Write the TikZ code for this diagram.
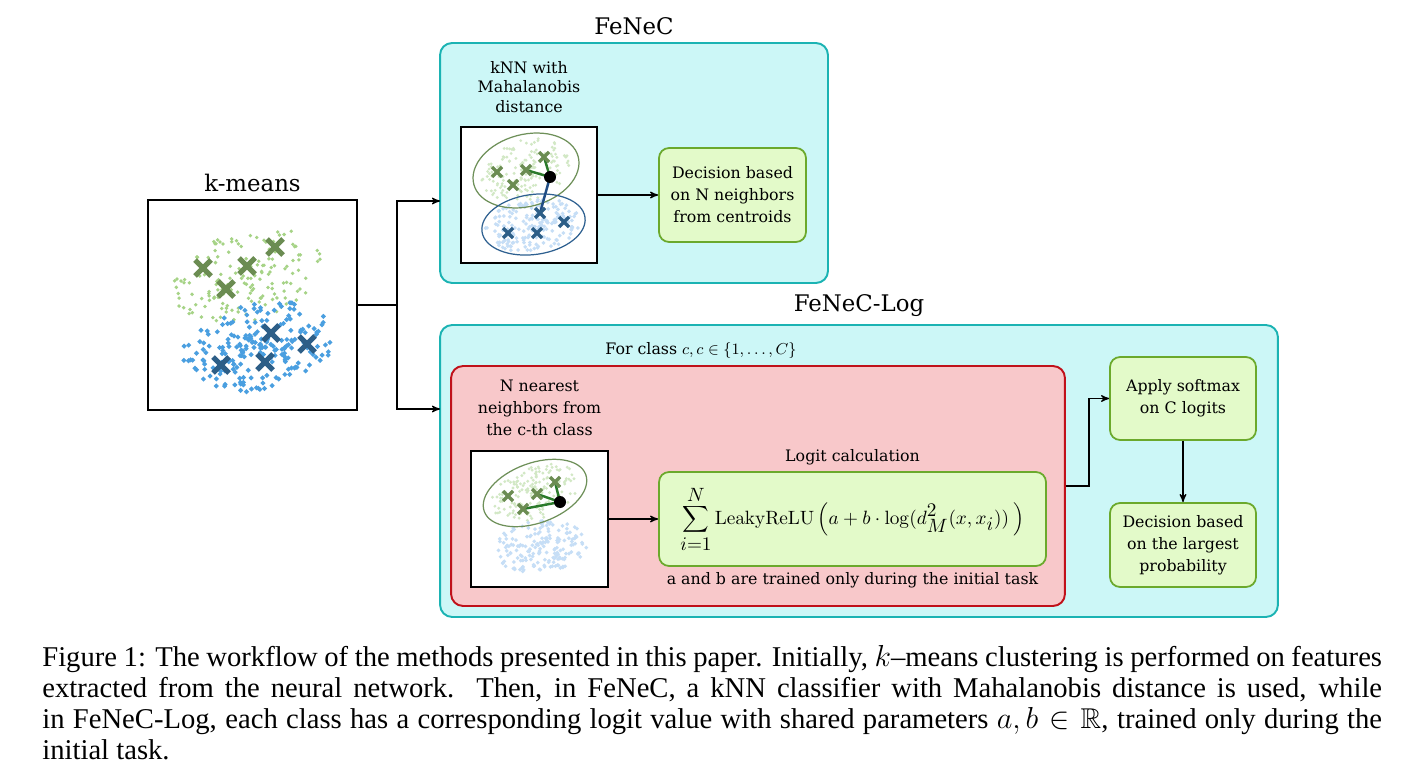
\documentclass[tikz,border=0pt]{standalone}
\usepackage[no-math]{fontspec}
\usepackage{amssymb}
\setmainfont{Liberation Serif}
\newfontfamily\diagfont{DejaVu Serif}
\usetikzlibrary{arrows}
\usetikzlibrary{positioning}

\definecolor{panelfill}{HTML}{CCF7F7}
\definecolor{paneledge}{HTML}{1BB3B3}
\definecolor{classfill}{HTML}{F8C8CA}
\definecolor{classedge}{HTML}{C0111A}
\definecolor{stepfill}{HTML}{E3FAC9}
\definecolor{stepedge}{HTML}{6BA92C}
\definecolor{dotgreen}{HTML}{A6D386}
\definecolor{dotblue}{HTML}{4A9FE0}
\definecolor{xgreen}{HTML}{6B8C52}
\definecolor{xblue}{HTML}{2D5E87}
\definecolor{fadegreen}{HTML}{D2E8C5}
\definecolor{fadeblue}{HTML}{C6DEF6}
\definecolor{ringgreen}{HTML}{6E9059}
\definecolor{ringblue}{HTML}{2E6090}
\definecolor{linkgreen}{HTML}{2A7A2A}
\definecolor{linkblue}{HTML}{1F4C85}

\tikzset {
  % outer method panel
  panel/.style = {
    draw = paneledge,
    fill = panelfill,
    line width = 1.1pt,
    rounded corners = 0.24cm
  },
  % per class panel
  classbox/.style = {
    draw = classedge,
    fill = classfill,
    line width = 1.1pt,
    rounded corners = 0.24cm
  },
  % processing step
  stepbox/.style = {
    draw = stepedge,
    fill = stepfill,
    line width = 1pt,
    rounded corners = 0.2cm,
    align = center,
    font = \diagfont\fontsize{9}{12.5}\selectfont
  },
  % scatter plot frame
  plotbox/.style = {
    draw = black,
    fill = white,
    line width = 1pt,
    inner sep = 0
  },
  label text/.style = {
    align = center,
    inner sep = 0,
    font = \diagfont\fontsize{9}{12.5}\selectfont
  },
  bigtitle/.style = {
    inner sep = 0,
    font = \diagfont\fontsize{13}{15}\selectfont
  },
  arr/.style = {
    draw = black,
    line width = 0.7pt,
    ->
  }
}
\tikzset {
  % centroid markers
  pics/bigcross/.style = {
    code = {\draw[line width=2.9pt] (-8,-8) -- (8,8) (-8,8) -- (8,-8);}
  },
  pics/smallcross/.style = {
    code = {\draw[line width=1.9pt] (-5,-5) -- (5,5) (-5,5) -- (5,-5);}
  }
}

\begin{document}
\begin{tikzpicture}[x=0.02cm, y=-0.02cm, >=stealth']
  \useasboundingbox (0,0) rectangle (1422,773);

  % k-means
  \node[plotbox, minimum width=4.18cm, minimum height=4.2cm] (kmeans) at (252.5,305) {};
  \node[bigtitle, above=0.14cm of kmeans] (kmeans-title) {k-means};
  \pgfmathsetseed{42}
  \begin{scope}
    \clip (kmeans.south west) rectangle (kmeans.north east);
    \foreach \i in {1,...,160} {
      \pgfmathsetmacro\r{rnd^0.6}
      \pgfmathsetmacro\t{360*rnd}
      \pgfmathsetmacro\px{247+74*\r*cos(\t)}
      \pgfmathsetmacro\py{276+46*\r*sin(\t)-0.18*74*\r*cos(\t)}
      \fill[dotgreen] (\px,\py) circle (1.9);
    }
    \foreach \i in {1,...,210} {
      \pgfmathsetmacro\r{rnd^0.6}
      \pgfmathsetmacro\t{360*rnd}
      \pgfmathsetmacro\px{258+78*\r*cos(\t)}
      \pgfmathsetmacro\py{347+44*\r*sin(\t)-0.14*78*\r*cos(\t)}
      \fill[dotblue] (\px,\py) +(-2.6,0) -- +(0,-2.6) -- +(2.6,0) -- +(0,2.6) -- cycle;
    }
  \end{scope}
  \pic[color=xgreen] at (203,268) {bigcross};
  \pic[color=xgreen] at (247,266) {bigcross};
  \pic[color=xgreen] at (275,247) {bigcross};
  \pic[color=xgreen] at (226,289) {bigcross};
  \pic[color=xblue] at (271,333) {bigcross};
  \pic[color=xblue] at (307,344) {bigcross};
  \pic[color=xblue] at (265,362) {bigcross};
  \pic[color=xblue] at (221,365) {bigcross};

  % FeNeC
  \node[panel, minimum width=7.76cm, minimum height=4.8cm] (fenec) at (634,163) {};
  \node[bigtitle, above=0.14cm of fenec] (fenec-title) {FeNeC};
  \node[plotbox, minimum size=2.72cm] (knn-plot) at (529,195) {};
  \node[label text, font=\diagfont\fontsize{9}{11.2}\selectfont, above=0.26cm of knn-plot] (knn-label) {kNN with\\Mahalanobis\\distance};
  \node[stepbox, minimum width=2.94cm, minimum height=1.88cm] (decision) at (732.5,195) {Decision based\\on N neighbors\\from centroids};
  \begin{scope}
    \clip (knn-plot.south west) rectangle (knn-plot.north east);
    \foreach \i in {1,...,160} {
      \pgfmathsetmacro\r{rnd^0.6}
      \pgfmathsetmacro\t{360*rnd}
      \pgfmathsetmacro\px{526+46*\r*cos(\t)*cos(15)+30*\r*sin(\t)*sin(15)}
      \pgfmathsetmacro\py{170-46*\r*cos(\t)*sin(15)+30*\r*sin(\t)*cos(15)}
      \fill[fadegreen] (\px,\py) circle (1.6);
    }
    \foreach \i in {1,...,180} {
      \pgfmathsetmacro\r{rnd^0.6}
      \pgfmathsetmacro\t{360*rnd}
      \pgfmathsetmacro\px{533+48*\r*cos(\t)*cos(8)+26*\r*sin(\t)*sin(8)}
      \pgfmathsetmacro\py{225-48*\r*cos(\t)*sin(8)+26*\r*sin(\t)*cos(8)}
      \fill[fadeblue] (\px,\py) +(-2,0) -- +(0,-2) -- +(2,0) -- +(0,2) -- cycle;
    }
  \end{scope}
  \draw[ringgreen, line width=0.7pt, rotate around={15:(526,170.5)}] (526,170.5) ellipse [x radius=1.08cm, y radius=0.72cm];
  \draw[ringblue, line width=0.7pt, rotate around={8:(533.5,224.5)}] (533.5,224.5) ellipse [x radius=1.04cm, y radius=0.6cm];
  \draw[linkgreen, line width=1.4pt] (550,177) -- (526,170);
  \draw[linkgreen, line width=1.4pt] (550,177) -- (544,157);
  \draw[linkblue, line width=1.4pt] (550,177) -- (540,213);
  \pic[color=xgreen] at (497,172) {smallcross};
  \pic[color=xgreen] at (513,185) {smallcross};
  \pic[color=xgreen] at (526,170) {smallcross};
  \pic[color=xgreen] at (544,157) {smallcross};
  \pic[color=xblue] at (540,213) {smallcross};
  \pic[color=xblue] at (564,222) {smallcross};
  \pic[color=xblue] at (508,233) {smallcross};
  \pic[color=xblue] at (537,233) {smallcross};
  \fill (550,177) circle (0.12cm);

  % FeNeC-Log
  \node[panel, minimum width=16.76cm, minimum height=5.84cm] (feneclog) at (859,471) {};
  \node[bigtitle, above=0.14cm of feneclog] (feneclog-title) {FeNeC-Log};
  \node[classbox, minimum width=12.28cm, minimum height=4.8cm] (perclass) at (758,486) {};
  \node[label text] (class-label) at (701,350) {For class $c, c\in\{1,\dots,C\}$};
  \node[plotbox, minimum width=2.74cm, minimum height=2.72cm] (nn-plot) at (539.5,519) {};
  \node[label text, above=0.28cm of nn-plot] (nn-label) {N nearest\\neighbors from\\the c-th class};
  \node[stepbox, minimum width=7.74cm, minimum height=1.88cm, font=\fontsize{10.5}{12}\selectfont] (logit) at (852.5,519)
    {$\displaystyle\sum_{\textstyle i{=}1}^{\textstyle N}\mathrm{LeakyReLU}\,\Big(a+b\cdot\log(d^{\textstyle 2}_{\textstyle M}(x,x_{\textstyle i}))\ \Big)$};
  \node[label text, above=0.12cm of logit] (logit-label) {Logit calculation};
  \node[label text, below=0.1cm of logit] (logit-note) {a and b are trained only during the initial task};
  \node[stepbox, minimum width=2.92cm, minimum height=1.66cm] (softmax) at (1183,398.5) {Apply softmax\\on C logits};
  \node[stepbox, minimum width=2.92cm, minimum height=1.68cm] (argmax) at (1183,545) {Decision based\\on the largest\\probability};
  \begin{scope}
    \clip (nn-plot.south west) rectangle (nn-plot.north east);
    \foreach \i in {1,...,160} {
      \pgfmathsetmacro\r{rnd^0.6}
      \pgfmathsetmacro\t{360*rnd}
      \pgfmathsetmacro\px{535+46*\r*cos(\t)*cos(20)+26*\r*sin(\t)*sin(20)}
      \pgfmathsetmacro\py{493-46*\r*cos(\t)*sin(20)+26*\r*sin(\t)*cos(20)}
      \fill[fadegreen] (\px,\py) circle (1.6);
    }
    \foreach \i in {1,...,180} {
      \pgfmathsetmacro\r{rnd^0.6}
      \pgfmathsetmacro\t{360*rnd}
      \pgfmathsetmacro\px{540+48*\r*cos(\t)*cos(5)+26*\r*sin(\t)*sin(5)}
      \pgfmathsetmacro\py{547-48*\r*cos(\t)*sin(5)+26*\r*sin(\t)*cos(5)}
      \fill[fadeblue] (\px,\py) +(-2,0) -- +(0,-2) -- +(2,0) -- +(0,2) -- cycle;
    }
  \end{scope}
  \draw[ringgreen, line width=0.7pt, rotate around={20:(535,493)}] (535,493) ellipse [x radius=1.08cm, y radius=0.6cm];
  \draw[linkgreen, line width=1.4pt] (560,502) -- (555,482);
  \draw[linkgreen, line width=1.4pt] (560,502) -- (537,494);
  \draw[linkgreen, line width=1.4pt] (560,502) -- (523,509);
  \pic[color=xgreen] at (508,496) {smallcross};
  \pic[color=xgreen] at (523,509) {smallcross};
  \pic[color=xgreen] at (537,494) {smallcross};
  \pic[color=xgreen] at (555,482) {smallcross};
  \fill (560,502) circle (0.12cm);

  % connectors
  \coordinate (split) at (397,305);
  \coordinate (fenec-in) at (440,201);
  \coordinate (feneclog-in) at (440,409);
  \draw[arr] (kmeans.east) -- (split) |- (fenec-in);
  \draw[arr] (split) |- (feneclog-in);
  \draw[arr] (knn-plot) -- (decision);
  \draw[arr] (nn-plot) -- (logit);
  \draw[arr] (perclass.east) -- ++(23,0) |- (softmax.west);
  \draw[arr] (softmax) -- (argmax);

  % caption
  \node[anchor=north west, inner sep=0, text width=26.8cm, align=justify,
        font=\fontsize{16.3}{17.6}\selectfont] (caption) at (42,645)
    {Figure 1: The workflow of the methods presented in this paper. Initially, $k$--means clustering is performed on features\linebreak
     extracted from the neural network.\ \ Then, in FeNeC, a kNN classifier with Mahalanobis distance is used, while\linebreak
     in FeNeC-Log, each class has a corresponding logit value with shared parameters $a,b\in\mathbb{R}$, trained only during the\linebreak
     initial task.};
\end{tikzpicture}
\end{document}
